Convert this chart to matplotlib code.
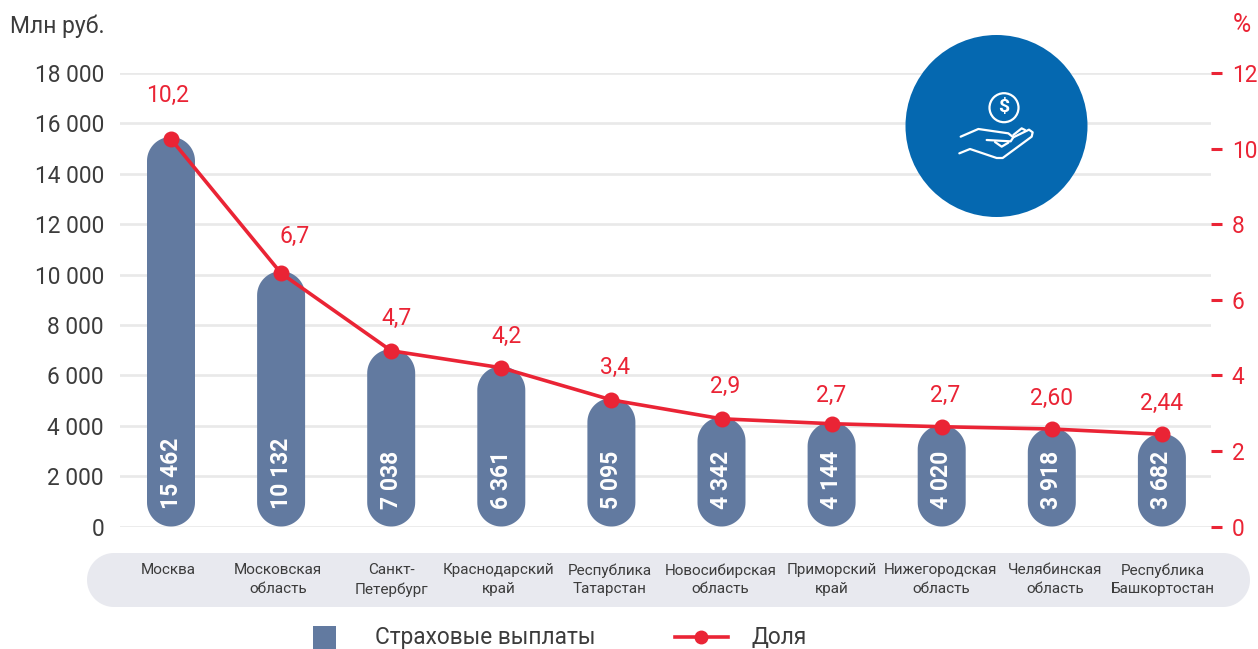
import numpy as np
import matplotlib
matplotlib.use("Agg")
import matplotlib.pyplot as plt
from matplotlib.patches import Circle, Rectangle, Polygon
from matplotlib.lines import Line2D
from matplotlib.transforms import ScaledTranslation

regions = ["Москва", "Московская\nобласть", "Санкт-\nПетербург", "Краснодарский\nкрай",
           "Республика\nТатарстан", "Новосибирская\nобласть", "Приморский\nкрай",
           "Нижегородская\nобласть", "Челябинская\nобласть", "Республика\nБашкортостан"]
payments = [15462, 10132, 7038, 6361, 5095, 4342, 4144, 4020, 3918, 3682]
payment_labels = ["15 462", "10 132", "7 038", "6 361", "5 095", "4 342", "4 144", "4 020", "3 918", "3 682"]
share = [10.25, 6.7, 4.65, 4.2, 3.35, 2.85, 2.72, 2.64, 2.58, 2.44]
share_labels = ["10,2", "6,7", "4,7", "4,2", "3,4", "2,9", "2,7", "2,7", "2,60", "2,44"]
left_ticks = [0, 2000, 4000, 6000, 8000, 10000, 12000, 14000, 16000, 18000]
left_labels = ["0", "2 000", "4 000", "6 000", "8 000", "10 000", "12 000", "14 000", "16 000", "18 000"]
right_ticks = [0, 2, 4, 6, 8, 10, 12]

W, H = 1258, 649
BAR, RED, BLUE, STRIP, GRID, INK = "#627aa0", "#ea2435", "#0568b0", "#e8e9ef", "#e9e9e9", "#3c3c3c"
plt.rcParams["font.family"] = ["Roboto", "DejaVu Sans"]

fig = plt.figure(figsize=(W / 100, H / 100), dpi=100)
L, R, T, B = 120, 1211, 73, 526.5
ax = fig.add_axes([L / W, 1 - B / H, (R - L) / W, (B - T) / H])
ux = 110.1
ax.set_xlim((L - 171) / ux, (R - 171) / ux)
ax.set_ylim(0, 18000)
ax.patch.set_visible(False)
for s in ax.spines.values():
    s.set_visible(False)
ax.set_yticks(left_ticks, left_labels, fontsize=16.3, color=INK)
ax.tick_params(axis="y", length=0, pad=11.5)
ax.grid(axis="y", color=GRID, lw=1.9, zorder=0)
ax.set_axisbelow(True)
ax.set_xticks(range(len(regions)), regions, fontsize=11, color=INK, linespacing=1.42)
ax.tick_params(axis="x", length=0, pad=26.5)
label_dx = [-3, -3, 0, -3, -2, -1, 0, -1, 3, 1]
for lbl, dx in zip(ax.get_xticklabels(), label_dx):
    lbl.set_transform(lbl.get_transform() + ScaledTranslation(dx / 100, 0, fig.dpi_scale_trans))
    lbl.set_va("top")

bar_px = 48
k = (B - T) / 18000          # pixels per data unit on the y axis
hw = bar_px / 2 / ux         # half width in x data units
ry = bar_px / 2 / k          # cap radius in y data units
th = np.linspace(0, np.pi, 40)
for i, (v, t) in enumerate(zip(payments, payment_labels)):
    top = np.c_[i + hw * np.cos(th), v - ry + ry * np.sin(th)]
    bot = np.c_[i - hw * np.cos(th), ry - ry * np.sin(th)]
    ax.add_patch(Polygon(np.r_[top, bot], closed=True, fc=BAR, ec="none", zorder=2))
    ax.annotate(t, (i, 0), xytext=(0, 12.5), textcoords="offset points", rotation=90,
                ha="center", va="bottom", color="white", fontsize=16.5, fontweight="bold", zorder=3)

ax2 = ax.twinx()
ax2.set_ylim(0, 12)
ax2.patch.set_visible(False)
for s in ax2.spines.values():
    s.set_visible(False)
ax2.set_yticks(right_ticks, [str(v) for v in right_ticks], fontsize=16.3, color=RED)
ax2.tick_params(axis="y", length=8, width=2.2, color=RED, pad=7)
ax2.plot(range(len(share)), share, color=RED, lw=2.6, marker="o", ms=10.5, mec=RED, mfc=RED,
         zorder=4, clip_on=False)
label_off_x = [-3, 14, 5, 5, 4, 4, 0, 3, 0, 0]
label_off_y = [44, 37, 32, 31, 32, 32, 28, 31, 31, 31]
for i, (v, t) in enumerate(zip(share, share_labels)):
    ax2.annotate(t, (i, v), xytext=(label_off_x[i] * 0.72, label_off_y[i] * 0.72),
                 textcoords="offset points", ha="center", va="center", color=RED, fontsize=16.5)

ov = fig.add_axes([0, 0, 1, 1], zorder=5)
ov.set_xlim(0, W)
ov.set_ylim(H, 0)
ov.axis("off")

# category strip, below the tick labels
th2 = np.linspace(-np.pi / 2, np.pi / 2, 40)
r_strip = 27
cy = (553 + 607) / 2
strip_pts = np.r_[np.c_[1250 - r_strip + r_strip * np.cos(th2), cy + r_strip * np.sin(th2)],
                  np.c_[87 + r_strip - r_strip * np.cos(th2), cy - r_strip * np.sin(th2)]]
bg = fig.add_axes([0, 0, 1, 1], zorder=-1)
bg.set_xlim(0, W)
bg.set_ylim(H, 0)
bg.axis("off")
bg.add_patch(Polygon(strip_pts, closed=True, fc=STRIP, ec="none"))

# badge with icon
ov.add_patch(Circle((996.5, 126), 91, fc=BLUE, ec="none"))
ov.add_patch(Circle((1004, 107.7), 14.5, fc="none", ec="white", lw=1.6))
ov.text(1004, 107.5, "$", color="white", fontsize=14, fontweight="bold", ha="center", va="center")
def z(pts):
    return [880 + p[0] / 3 for p in pts], [20 + p[1] / 3 for p in pts]
hand = [
    [(242, 350), (295, 327), (385, 340), (400, 352), (392, 364), (320, 360)],
    [(238, 400), (270, 387), (350, 414), (368, 414), (455, 350), (458, 337), (447, 329), (400, 352)],
    [(400, 345), (425, 325), (435, 330)],
    [(345, 366), (365, 380), (385, 368)],
]
for pts in hand:
    xs, ys = z(pts)
    ov.add_line(Line2D(xs, ys, color="white", lw=1.6, solid_capstyle="round", solid_joinstyle="round"))

# header units
ov.text(10, 26, "Млн руб.", fontsize=16.5, color=INK, va="center", ha="left")
ov.text(1251, 25, "%", fontsize=18, color=RED, va="center", ha="right")

# legend
ov.add_patch(Rectangle((313, 626), 23, 23, fc=BAR, ec="none"))
ov.text(375, 637.5, "Страховые выплаты", fontsize=16.3, color=INK, va="center", ha="left")
ov.add_line(Line2D([675, 728], [637, 637], color=RED, lw=2.6))
ov.add_line(Line2D([701], [637], color=RED, marker="o", ms=9))
ov.text(751, 637.5, "Доля", fontsize=16.3, color=INK, va="center", ha="left")

fig.savefig("out.png", dpi=100)
